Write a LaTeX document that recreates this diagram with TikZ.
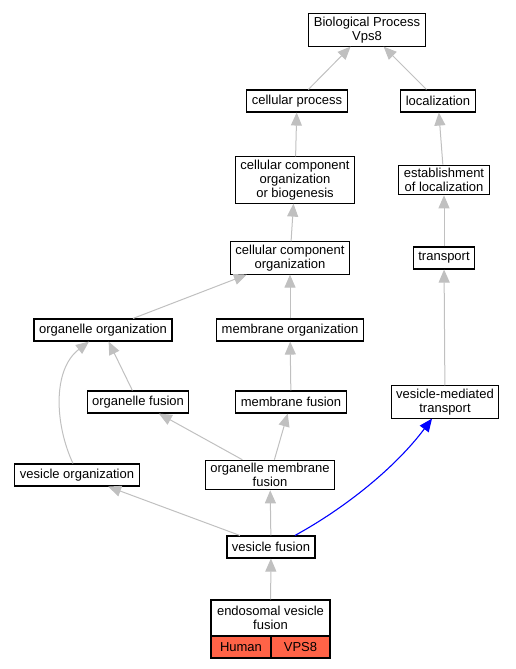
\documentclass[tikz,border=0pt]{standalone}
\usepackage{fontspec}
\setmainfont{Liberation Sans}
\usetikzlibrary{arrows.meta}

\definecolor{edgegray}{RGB}{192,192,192}
\definecolor{genecell}{RGB}{255,99,71}

\tikzset{
  term/.style = {draw, line width=1.1pt, fill=white, align=center, inner xsep=5pt,
    inner ysep=3pt, minimum height=22pt, font=\fontsize{13}{14}\selectfont},
  isa/.style = {draw=edgegray, line width=1pt, -{Triangle[length=13pt, width=11pt]}},
  blueedge/.style = {draw=blue, line width=1.1pt, -{Triangle[length=13pt, width=11pt]}},
  cell/.style = {term, fill=genecell, minimum height=22pt}
}

\begin{document}
\begin{tikzpicture}[x=1pt, y=-1pt]
\useasboundingbox (0,0) rectangle (516,669);
\node[term] (bp) at (367,30) {Biological Process\\Vps8};
\node[term] (cp) at (297,101) {cellular process};
\node[term] (loc) at (438,101) {localization};
\node[term] (ccob) at (295,180) {cellular component\\organization\\or biogenesis};
\node[term] (eol) at (444,180) {establishment\\of localization};
\node[term] (cco) at (290,258) {cellular component\\organization};
\node[term] (tr) at (444,258) {transport};
\node[term] (oo) at (103,330) {organelle organization};
\node[term] (mo) at (290,330) {membrane organization};
\node[term] (of) at (138,402) {organelle fusion};
\node[term] (mf) at (291,402) {membrane fusion};
\node[term] (vmt) at (445,402) {vesicle-mediated\\transport};
\node[term] (vo) at (77,475) {vesicle organization};
\node[term] (omf) at (270,475) {organelle membrane\\fusion};
\node[term] (vf) at (271,547) {vesicle fusion};
\node[term, minimum width=119pt, minimum height=36pt] (evf) at (270.5,618) {endosomal vesicle\\fusion};
\node[cell, minimum width=60pt] (hum) at (241,647) {Human};
\node[cell, minimum width=59pt] (vps) at (300.5,647) {VPS8};
% is_a edges
\draw[isa] (cp) -- (bp);
\draw[isa] (loc) -- (bp);
\draw[isa] (ccob) -- (cp);
\draw[isa] (eol) -- (loc);
\draw[isa] (cco) -- (ccob);
\draw[isa] (tr) -- (eol);
\draw[isa] (oo) -- (cco);
\draw[isa] (mo) -- (cco);
\draw[isa] (of) -- (oo);
\draw[isa] (mf) -- (mo);
\draw[isa] (vmt) -- (tr);
\draw[isa] ([xshift=-4pt]vo.north) .. controls (55,425) and (52,370) .. ([xshift=-14pt]oo.south);
\draw[isa] (omf) -- (of);
\draw[isa] (omf) -- (mf);
\draw[isa] (vf) -- (vo);
\draw[isa] (vf) -- (omf);
\draw[blueedge] ([xshift=24pt]vf.north) .. controls (345,508) and (395,468) .. ([xshift=-13pt]vmt.south);
\draw[isa] (evf) -- (vf);
\end{tikzpicture}
\end{document}
